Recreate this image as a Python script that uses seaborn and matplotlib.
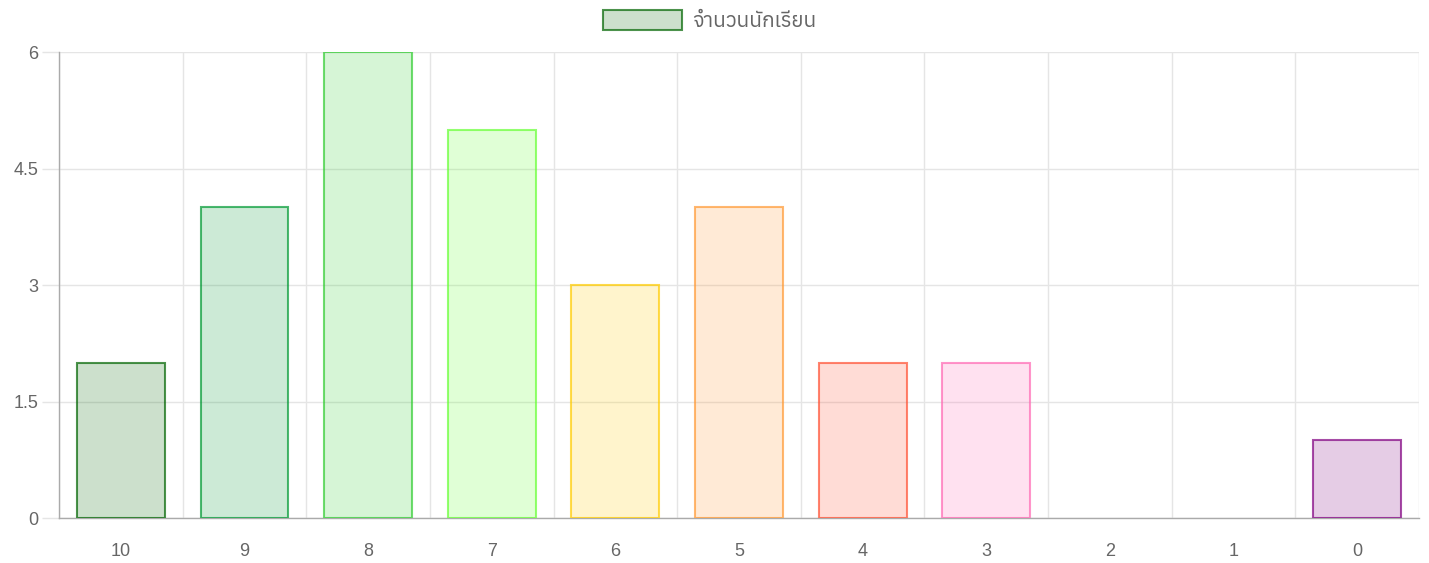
import matplotlib
matplotlib.use("Agg")
import matplotlib.pyplot as plt
from matplotlib import font_manager
from matplotlib.ft2font import FT2Font
from matplotlib.patches import Patch
from matplotlib.colors import to_rgba
import seaborn as sns
import numpy as np

scores = ["10", "9", "8", "7", "6", "5", "4", "3", "2", "1", "0"]
students = [2, 4, 6, 5, 3, 4, 2, 2, 0, 0, 1]
bar_colors = ["#006400", "#009933", "#32cd32", "#66ff33", "#ffcc00", "#ff9933",
              "#ff5032", "#ff69b4", "#3366cc", "#3366cc", "#800080"]
legend_label = "จำนวนนักเรียน"
y_ticks = [0, 1.5, 3, 4.5, 6]
y_tick_labels = ["0", "1.5", "3", "4.5", "6"]


def find_thai_fonts():
    names = []
    for f in font_manager.findSystemFonts():
        try:
            if 0x0E08 in FT2Font(f).get_charmap():
                names.append(font_manager.FontProperties(fname=f).get_name())
        except Exception:
            pass
    # prefer proportional sans faces
    names = sorted(set(names), key=lambda n: ("Mono" in n or "Typo" in n, n))
    return names


sns.set_theme(style="white")
plt.rcParams["font.family"] = ["Liberation Sans", "DejaVu Sans"]
thai = find_thai_fonts()

fig = plt.figure(figsize=(14.29, 5.63), dpi=100)
ax = fig.add_axes([0.0413, 0.0799, 0.9517, 0.8277])

sns.barplot(x=scores, y=students, hue=scores, palette=bar_colors, legend=False,
            width=0.71, ax=ax, zorder=3)
for patch, c, v in zip(ax.patches, bar_colors, students):
    patch.set_facecolor(to_rgba(c, 0.2))
    patch.set_edgecolor(to_rgba(c, 0.7))
    patch.set_linewidth(1.5 if v > 0 else 0)

grid_c = "#e5e5e5"
ax.set_xlim(-0.5, len(scores) - 0.5)
ax.set_ylim(0, 6)
ax.set_yticks(y_ticks)
ax.set_yticklabels(y_tick_labels)
ax.set_xticks(np.arange(-0.5, len(scores)), minor=True)
ax.tick_params(axis="x", which="major", length=0, pad=18, labelsize=13, labelcolor="#666666")
ax.tick_params(axis="x", which="minor", length=12, width=1, color=grid_c, direction="out")
ax.tick_params(axis="y", length=12, width=1, color=grid_c, pad=3, labelsize=13,
               labelcolor="#666666", left=True)
ax.grid(True, axis="y", color=grid_c, linewidth=1, alpha=1, zorder=0)
ax.grid(True, axis="x", which="minor", color=grid_c, linewidth=1, alpha=1, zorder=0)
ax.set_axisbelow(True)
for s in ["top", "right"]:
    ax.spines[s].set_visible(False)
for s in ["left", "bottom"]:
    ax.spines[s].set_color("#aaaaaa")
    ax.spines[s].set_linewidth(1)
ax.set_xlabel("")
ax.set_ylabel("")

handle = Patch(facecolor=to_rgba(bar_colors[0], 0.2), edgecolor=to_rgba(bar_colors[0], 0.7),
               linewidth=1.5)
leg = fig.legend([handle], [legend_label], loc="center", bbox_to_anchor=(0.4965, 0.964),
                 frameon=False, fontsize=15, labelcolor="#666666",
                 handlelength=3.8, handleheight=1.15, handletextpad=0.5)
for t in leg.get_texts():
    t.set_family(thai[:1] + ["DejaVu Sans"])

fig.savefig("out.png", dpi=100)
